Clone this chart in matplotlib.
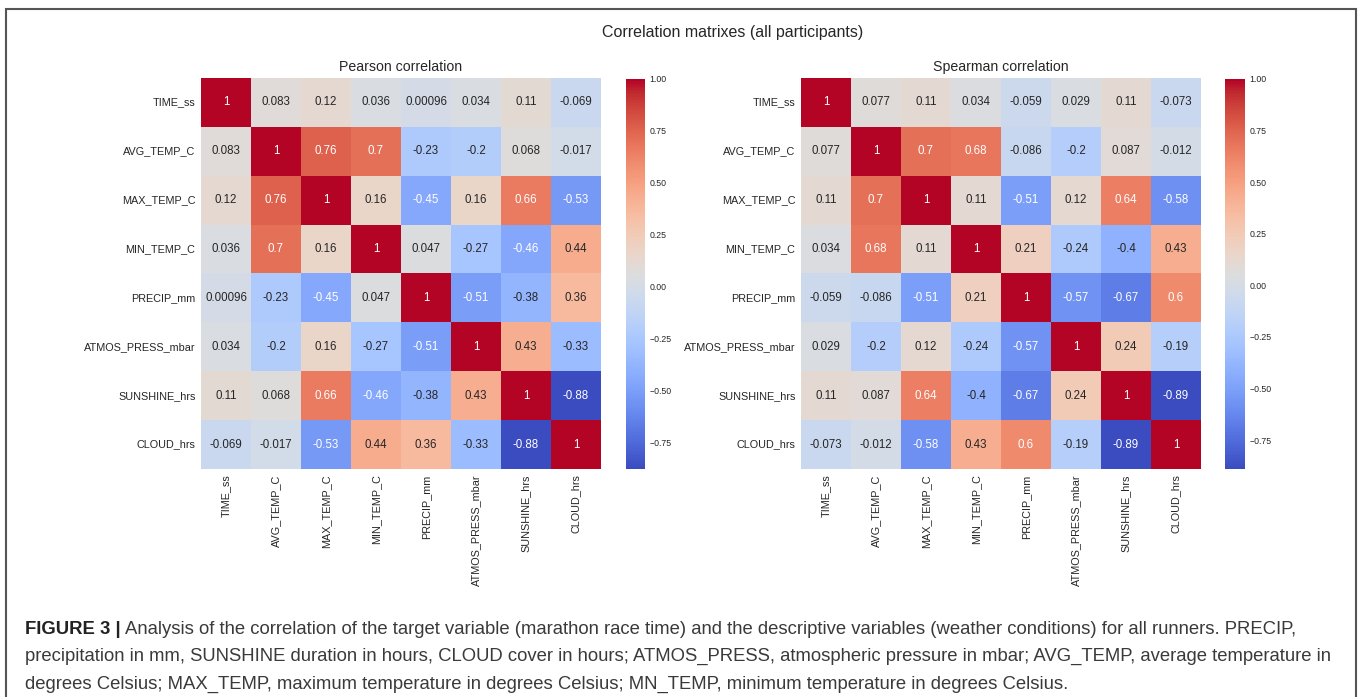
import numpy as np
import matplotlib
matplotlib.use("Agg")
import matplotlib.pyplot as plt
from matplotlib.patches import Rectangle
import seaborn as sns

plt.rcParams['font.family'] = ['Liberation Sans', 'DejaVu Sans']

labels = ["TIME_ss", "AVG_TEMP_C", "MAX_TEMP_C", "MIN_TEMP_C", "PRECIP_mm",
          "ATMOS_PRESS_mbar", "SUNSHINE_hrs", "CLOUD_hrs"]

pearson_time = [1, 0.083, 0.12, 0.036, 0.00096, 0.034, 0.11, -0.069]
pearson_avg = [0.083, 1, 0.76, 0.7, -0.23, -0.2, 0.068, -0.017]
pearson_max = [0.12, 0.76, 1, 0.16, -0.45, 0.16, 0.66, -0.53]
pearson_min = [0.036, 0.7, 0.16, 1, 0.047, -0.27, -0.46, 0.44]
pearson_precip = [0.00096, -0.23, -0.45, 0.047, 1, -0.51, -0.38, 0.36]
pearson_atmos = [0.034, -0.2, 0.16, -0.27, -0.51, 1, 0.43, -0.33]
pearson_sun = [0.11, 0.068, 0.66, -0.46, -0.38, 0.43, 1, -0.88]
pearson_cloud = [-0.069, -0.017, -0.53, 0.44, 0.36, -0.33, -0.88, 1]

spearman_time = [1, 0.077, 0.11, 0.034, -0.059, 0.029, 0.11, -0.073]
spearman_avg = [0.077, 1, 0.7, 0.68, -0.086, -0.2, 0.087, -0.012]
spearman_max = [0.11, 0.7, 1, 0.11, -0.51, 0.12, 0.64, -0.58]
spearman_min = [0.034, 0.68, 0.11, 1, 0.21, -0.24, -0.4, 0.43]
spearman_precip = [-0.059, -0.086, -0.51, 0.21, 1, -0.57, -0.67, 0.6]
spearman_atmos = [0.029, -0.2, 0.12, -0.24, -0.57, 1, 0.24, -0.19]
spearman_sun = [0.11, 0.087, 0.64, -0.4, -0.67, 0.24, 1, -0.89]
spearman_cloud = [-0.073, -0.012, -0.58, 0.43, 0.6, -0.19, -0.89, 1]

pearson = np.array([pearson_time, pearson_avg, pearson_max, pearson_min,
                    pearson_precip, pearson_atmos, pearson_sun, pearson_cloud])
spearman = np.array([spearman_time, spearman_avg, spearman_max, spearman_min,
                     spearman_precip, spearman_atmos, spearman_sun, spearman_cloud])

W, H = 1358, 697
fig = plt.figure(figsize=(W / 100, H / 100), dpi=100)

def rect(x0, y0, x1, y1):
    return [x0 / W, 1 - y1 / H, (x1 - x0) / W, (y1 - y0) / H]

ax1 = fig.add_axes(rect(201, 78, 601, 469))
cax1 = fig.add_axes(rect(626, 79, 645, 469))
ax2 = fig.add_axes(rect(801, 78, 1201, 469))
cax2 = fig.add_axes(rect(1225, 79, 1245, 469))

txt = "#262626"
for ax, cax, data, title in [(ax1, cax1, pearson, "Pearson correlation"),
                             (ax2, cax2, spearman, "Spearman correlation")]:
    sns.heatmap(data, ax=ax, cbar_ax=cax, cmap="coolwarm", annot=True,
                annot_kws={"fontsize": 8.3}, xticklabels=labels, yticklabels=labels)
    ax.set_title(title, fontsize=10.2, color=txt, pad=5)
    ax.tick_params(axis="both", length=0, labelsize=7.8, labelcolor=txt, pad=4)
    plt.setp(ax.get_xticklabels(), rotation=90)
    plt.setp(ax.get_yticklabels(), rotation=0)
    cax.tick_params(length=0, labelsize=6.3, labelcolor=txt, pad=3)
    cax.set_yticks([1.0, 0.75, 0.5, 0.25, 0.0, -0.25, -0.5, -0.75])
    cax.set_yticklabels([f"{v:.2f}".replace("-", "\u2212") for v in
                         [1.0, 0.75, 0.5, 0.25, 0.0, -0.25, -0.5, -0.75]])

fig.text(733 / W, 1 - 33 / H, "Correlation matrixes (all participants)",
         ha="center", va="center", fontsize=11.5, color=txt)

# frame
fig.patches.append(Rectangle((6 / W, -0.02), (1356 - 6) / W, 1 - 9 / H + 0.02,
                             transform=fig.transFigure, fill=False,
                             edgecolor="#555555", linewidth=1.5))

cap_font = ['Liberation Sans Narrow', 'Liberation Sans', 'DejaVu Sans']
cap_color = "#3a3a3a"
cap_size = 13.3
lines = [
    "Analysis of the correlation of the target variable (marathon race time) and the descriptive variables (weather conditions) for all runners. PRECIP,",
    "precipitation in mm, SUNSHINE duration in hours, CLOUD cover in hours; ATMOS_PRESS, atmospheric pressure in mbar; AVG_TEMP, average temperature in",
    "degrees Celsius; MAX_TEMP, maximum temperature in degrees Celsius; MN_TEMP, minimum temperature in degrees Celsius.",
]
t0 = fig.text(25 / W, 1 - 629 / H, "FIGURE 3 |", fontsize=cap_size, fontweight="bold",
              family=cap_font, color="#222222", va="center", ha="left")
fig.canvas.draw()
bb = t0.get_window_extent()
fig.text(bb.x1 / W + 4 / W, 1 - 629 / H, lines[0], fontsize=cap_size, family=cap_font,
         color=cap_color, va="center", ha="left")
fig.text(25 / W, 1 - 656 / H, lines[1], fontsize=cap_size, family=cap_font,
         color=cap_color, va="center", ha="left")
fig.text(25 / W, 1 - 684 / H, lines[2], fontsize=cap_size, family=cap_font,
         color=cap_color, va="center", ha="left")

fig.savefig("out.png", dpi=100, facecolor="white")
